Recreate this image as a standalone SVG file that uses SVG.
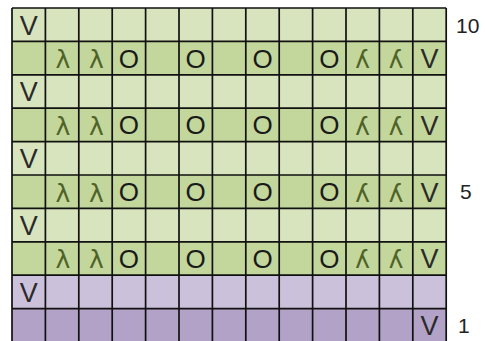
<svg xmlns="http://www.w3.org/2000/svg" width="485" height="341" viewBox="0 0 485 341">
<style>
.lg{fill:#D7E4BD}.dg{fill:#C3D69B}.lp{fill:#CCC1DA}.dp{fill:#B3A2C7}
.grid{stroke:#111;stroke-width:1.7;fill:none}
.s{font-family:"Liberation Sans",Arial,sans-serif;font-size:26px;text-anchor:middle}
.v{fill:#2a2a2a;font-size:27px}
.o{fill:#1a1a1a}
.l{fill:#4F6228;font-family:"DejaVu Sans",sans-serif;font-size:25px}
.num{font-family:"Liberation Sans",Arial,sans-serif;font-size:21px;fill:#222}
</style>
<rect width="485" height="341" fill="#fff"/>
<g id="rows">
<rect class="lg" x="12" y="8" width="434.2" height="33.4"/>
<rect class="dg" x="12" y="41.4" width="434.2" height="33.4"/>
<rect class="lg" x="12" y="74.8" width="434.2" height="33.4"/>
<rect class="dg" x="12" y="108.2" width="434.2" height="33.4"/>
<rect class="lg" x="12" y="141.6" width="434.2" height="33.4"/>
<rect class="dg" x="12" y="175" width="434.2" height="33.4"/>
<rect class="lg" x="12" y="208.4" width="434.2" height="33.4"/>
<rect class="dg" x="12" y="241.8" width="434.2" height="33.4"/>
<rect class="lp" x="12" y="275.2" width="434.2" height="33.4"/>
<rect class="dp" x="12" y="308.6" width="434.2" height="33.4"/>
</g>
<path class="grid" d="M12 8V342M45.4 8V342M78.8 8V342M112.2 8V342M145.6 8V342M179 8V342M212.4 8V342M245.8 8V342M279.2 8V342M312.6 8V342M346 8V342M379.4 8V342M412.8 8V342M446.2 8V342M12 8H446.2M12 41.4H446.2M12 74.8H446.2M12 108.2H446.2M12 141.6H446.2M12 175H446.2M12 208.4H446.2M12 241.8H446.2M12 275.2H446.2M12 308.6H446.2M12 342H446.2"/>
<g id="symbols" class="s">
<text class="v" x="28.7" y="34.5">V</text>
<text class="v" x="28.7" y="101.3">V</text>
<text class="v" x="28.7" y="168.1">V</text>
<text class="v" x="28.7" y="234.9">V</text>
<text class="v" x="28.7" y="301.7">V</text>
<text class="v" x="429.5" y="335">V</text>
<g id="r9">
<text class="l" x="63" y="68">λ</text><text class="l" x="96.4" y="68">λ</text>
<text class="o" x="128.9" y="67.5">O</text><text class="o" x="195.7" y="67.5">O</text><text class="o" x="262.5" y="67.5">O</text><text class="o" x="329.3" y="67.5">O</text>
<text class="l" transform="translate(362.7 0) scale(-1 1)" x="0" y="68">λ</text><text class="l" transform="translate(396.1 0) scale(-1 1)" x="0" y="68">λ</text>
<text class="v" x="429.5" y="67.9">V</text>
</g>
<g id="r7">
<text class="l" x="63" y="134.8">λ</text><text class="l" x="96.4" y="134.8">λ</text>
<text class="o" x="128.9" y="134.3">O</text><text class="o" x="195.7" y="134.3">O</text><text class="o" x="262.5" y="134.3">O</text><text class="o" x="329.3" y="134.3">O</text>
<text class="l" transform="translate(362.7 0) scale(-1 1)" x="0" y="134.8">λ</text><text class="l" transform="translate(396.1 0) scale(-1 1)" x="0" y="134.8">λ</text>
<text class="v" x="429.5" y="134.7">V</text>
</g>
<g id="r5">
<text class="l" x="63" y="201.6">λ</text><text class="l" x="96.4" y="201.6">λ</text>
<text class="o" x="128.9" y="201.1">O</text><text class="o" x="195.7" y="201.1">O</text><text class="o" x="262.5" y="201.1">O</text><text class="o" x="329.3" y="201.1">O</text>
<text class="l" transform="translate(362.7 0) scale(-1 1)" x="0" y="201.6">λ</text><text class="l" transform="translate(396.1 0) scale(-1 1)" x="0" y="201.6">λ</text>
<text class="v" x="429.5" y="201.5">V</text>
</g>
<g id="r3">
<text class="l" x="63" y="268.4">λ</text><text class="l" x="96.4" y="268.4">λ</text>
<text class="o" x="128.9" y="267.9">O</text><text class="o" x="195.7" y="267.9">O</text><text class="o" x="262.5" y="267.9">O</text><text class="o" x="329.3" y="267.9">O</text>
<text class="l" transform="translate(362.7 0) scale(-1 1)" x="0" y="268.4">λ</text><text class="l" transform="translate(396.1 0) scale(-1 1)" x="0" y="268.4">λ</text>
<text class="v" x="429.5" y="268.3">V</text>
</g>
</g>
<g id="labels">
<text class="num" x="456" y="33">10</text>
<text class="num" x="460" y="199">5</text>
<text class="num" x="458" y="333">1</text>
</g>
</svg>
